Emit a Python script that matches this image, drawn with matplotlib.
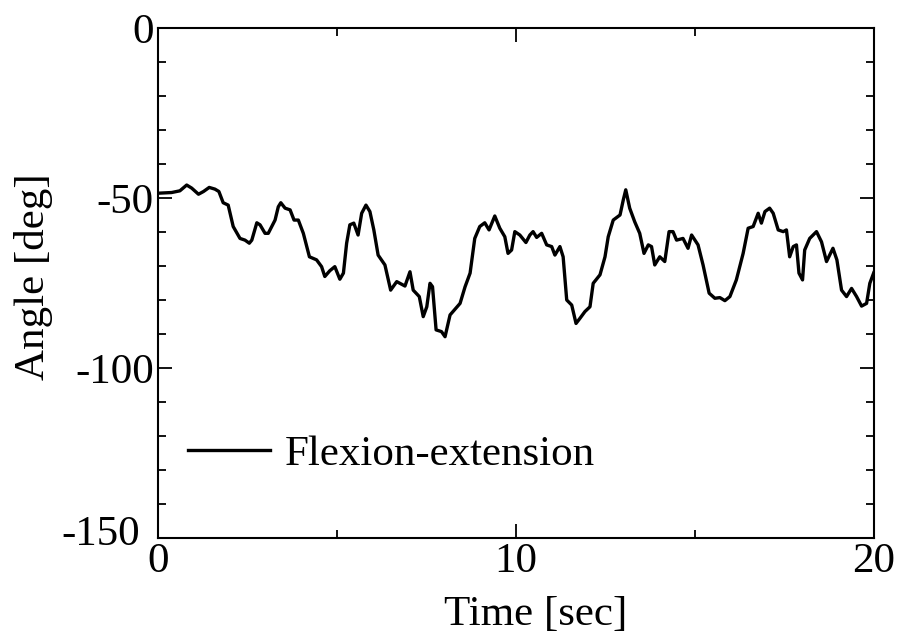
import matplotlib
matplotlib.use('Agg')
from matplotlib import pyplot as plt
from matplotlib.ticker import MultipleLocator, FuncFormatter

plt.rcParams['font.family'] = ['Liberation Serif', 'DejaVu Serif']
plt.rcParams['axes.unicode_minus'] = False

# values
time_s = [0.00, 0.38, 0.61, 0.80, 0.94, 1.13, 1.27, 1.43, 1.59, 1.70,
          1.82, 1.96, 2.10, 2.29, 2.43, 2.55, 2.62, 2.76, 2.85, 2.99,
          3.08, 3.27, 3.36, 3.43, 3.55, 3.69, 3.80, 3.92, 4.06, 4.23,
          4.43, 4.57, 4.66, 4.80, 4.94, 5.08, 5.18, 5.27, 5.36, 5.47,
          5.59, 5.69, 5.81, 5.92, 6.03, 6.15, 6.34, 6.50, 6.67, 6.90,
          7.04, 7.13, 7.30, 7.41, 7.51, 7.60, 7.67, 7.77, 7.92, 8.02,
          8.16, 8.44, 8.58, 8.72, 8.85, 8.99, 9.13, 9.25, 9.41, 9.55,
          9.69, 9.78, 9.88, 9.97, 10.11, 10.28, 10.39, 10.48, 10.58, 10.72,
          10.86, 11.00, 11.09, 11.23, 11.32, 11.42, 11.56, 11.68, 11.79, 11.93,
          12.07, 12.16, 12.35, 12.49, 12.58, 12.72, 12.91, 13.00, 13.07, 13.18,
          13.32, 13.46, 13.58, 13.70, 13.79, 13.88, 14.02, 14.16, 14.28, 14.39,
          14.49, 14.67, 14.81, 14.91, 15.09, 15.23, 15.40, 15.56, 15.70, 15.84,
          15.98, 16.16, 16.35, 16.49, 16.63, 16.77, 16.86, 16.96, 17.09, 17.19,
          17.33, 17.47, 17.56, 17.65, 17.75, 17.84, 17.91, 18.01, 18.07, 18.21,
          18.40, 18.54, 18.68, 18.86, 18.97, 19.10, 19.24, 19.38, 19.52, 19.66,
          19.80, 19.89, 20.00]
angle_deg = [-48.6, -48.4, -47.9, -46.2, -47.1, -48.9, -48.1, -46.9, -47.4, -48.1,
             -51.4, -52.1, -58.4, -61.9, -62.4, -63.3, -62.4, -57.3, -57.9, -60.4,
             -60.4, -56.5, -52.6, -51.4, -53.0, -53.5, -56.5, -56.5, -60.4, -67.3,
             -68.2, -70.2, -73.1, -71.4, -70.2, -73.9, -72.1, -63.3, -57.9, -57.4,
             -60.9, -54.5, -52.1, -54.0, -59.4, -66.8, -69.7, -77.1, -74.6, -75.9,
             -71.7, -77.1, -79.0, -84.9, -82.0, -75.1, -76.1, -88.8, -89.3, -90.8,
             -84.4, -81.0, -76.1, -72.1, -61.9, -58.4, -57.3, -59.4, -55.3, -58.9,
             -61.4, -66.3, -65.3, -59.9, -60.9, -63.1, -60.9, -59.9, -61.6, -60.4,
             -63.8, -64.3, -66.8, -64.3, -67.3, -80.0, -81.5, -86.9, -85.4, -83.4,
             -82.0, -75.1, -72.6, -67.3, -61.4, -56.5, -55.0, -50.6, -47.6, -53.0,
             -57.0, -60.4, -66.3, -63.8, -64.3, -69.7, -67.3, -68.7, -59.9, -59.9,
             -62.4, -61.9, -64.8, -60.9, -63.8, -69.7, -78.0, -79.5, -79.3, -80.2,
             -79.0, -74.1, -66.3, -58.9, -58.4, -54.5, -57.4, -54.0, -53.0, -54.5,
             -59.4, -59.9, -59.4, -67.3, -64.3, -63.8, -72.1, -74.1, -65.3, -61.9,
             -59.9, -62.9, -68.7, -64.8, -68.2, -77.1, -79.0, -76.6, -79.0, -81.8,
             -81.0, -75.1, -72.0]
y_min, y_max = -150, 0

fig = plt.figure(figsize=(8.98, 6.44), dpi=100)
ax = fig.add_axes([0.176, 0.1646, 0.797, 0.792])

ax.plot(time_s, angle_deg, color='black', lw=2.4, label='Flexion-extension')

ax.set_xlim(0, 20)
ax.set_ylim(y_min, y_max)
ax.xaxis.set_major_locator(MultipleLocator(10))
ax.xaxis.set_minor_locator(MultipleLocator(5))
ax.yaxis.set_major_locator(MultipleLocator(50))
ax.yaxis.set_minor_locator(MultipleLocator(10))
# bottom y label is drawn separately, nudged left so it clears the x "0"
ax.yaxis.set_major_formatter(FuncFormatter(lambda v, p: '' if v == y_min else '%d' % v))
ax.tick_params(which='both', direction='in', top=True, right=True,
               labelsize=31, width=1.3, pad=3)
ax.tick_params(which='major', length=10)
ax.tick_params(which='minor', length=6)
for s in ax.spines.values():
    s.set_linewidth(1.5)
ax.text(-0.025, y_min + 1, '%d' % y_min, transform=ax.get_yaxis_transform(),
        ha='right', va='center', fontsize=31)

ax.set_xlabel('Time [sec]', fontsize=31)
ax.set_ylabel('Angle [deg]', fontsize=31)
ax.xaxis.set_label_coords(0.527, -0.112)
ax.yaxis.set_label_coords(-0.147, 0.512)

ax.legend(loc='center left', bbox_to_anchor=(0.0, 0.163), frameon=False,
          fontsize=31, handlelength=1.9, handletextpad=0.35, borderaxespad=0.3)

fig.savefig('out.png', dpi=100)
